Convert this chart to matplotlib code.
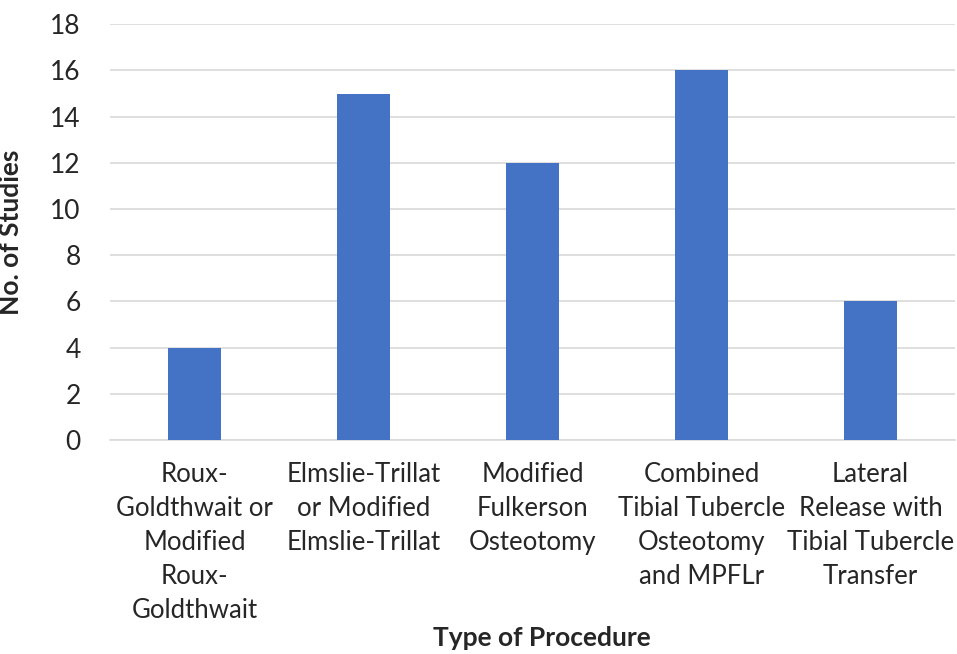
import matplotlib.pyplot as plt
import numpy as np

plt.rcParams['font.family'] = ['Lato', 'DejaVu Sans']

categories = ["Roux-\nGoldthwait or\nModified\nRoux-\nGoldthwait",
              "Elmslie-Trillat\nor Modified\nElmslie-Trillat",
              "Modified\nFulkerson\nOsteotomy",
              "Combined\nTibial Tubercle\nOsteotomy\nand MPFLr",
              "Lateral\nRelease with\nTibial Tubercle\nTransfer"]
studies = [4, 15, 12, 16, 6]
yticks = [0, 2, 4, 6, 8, 10, 12, 14, 16, 18]

fig = plt.figure(figsize=(9.57, 6.54), dpi=100)
ax = fig.add_axes([0.115, 0.327, 0.883, 0.636])

x = np.arange(len(categories))
ax.bar(x, studies, width=0.31, color="#4472C4", zorder=3)

ax.set_xlim(-0.5, len(categories) - 0.5)
ax.set_ylim(0, 18)
ax.set_yticks(yticks)
ax.set_xticks(x)
ax.set_xticklabels(categories, fontsize=18.5, color="#262626", linespacing=1.45)
ax.tick_params(axis='y', labelsize=19, colors="#262626", length=0, pad=21)
ax.tick_params(axis='x', length=0, pad=16)
ax.grid(axis='y', color="#D9D9D9", linewidth=1.2, zorder=0)
for s in ['top', 'right', 'left']:
    ax.spines[s].set_visible(False)
ax.spines['bottom'].set_color("#D9D9D9")
ax.spines['bottom'].set_linewidth(1.2)

ax.set_ylabel("No. of Studies", fontsize=19, fontweight='bold', color="#262626")
ax.yaxis.set_label_coords(-0.103, 0.5)
fig.text(0.566, 0.006, "Type of Procedure", fontsize=19, fontweight='bold',
         color="#262626", ha='center', va='bottom')

fig.savefig("out.png", dpi=100)
